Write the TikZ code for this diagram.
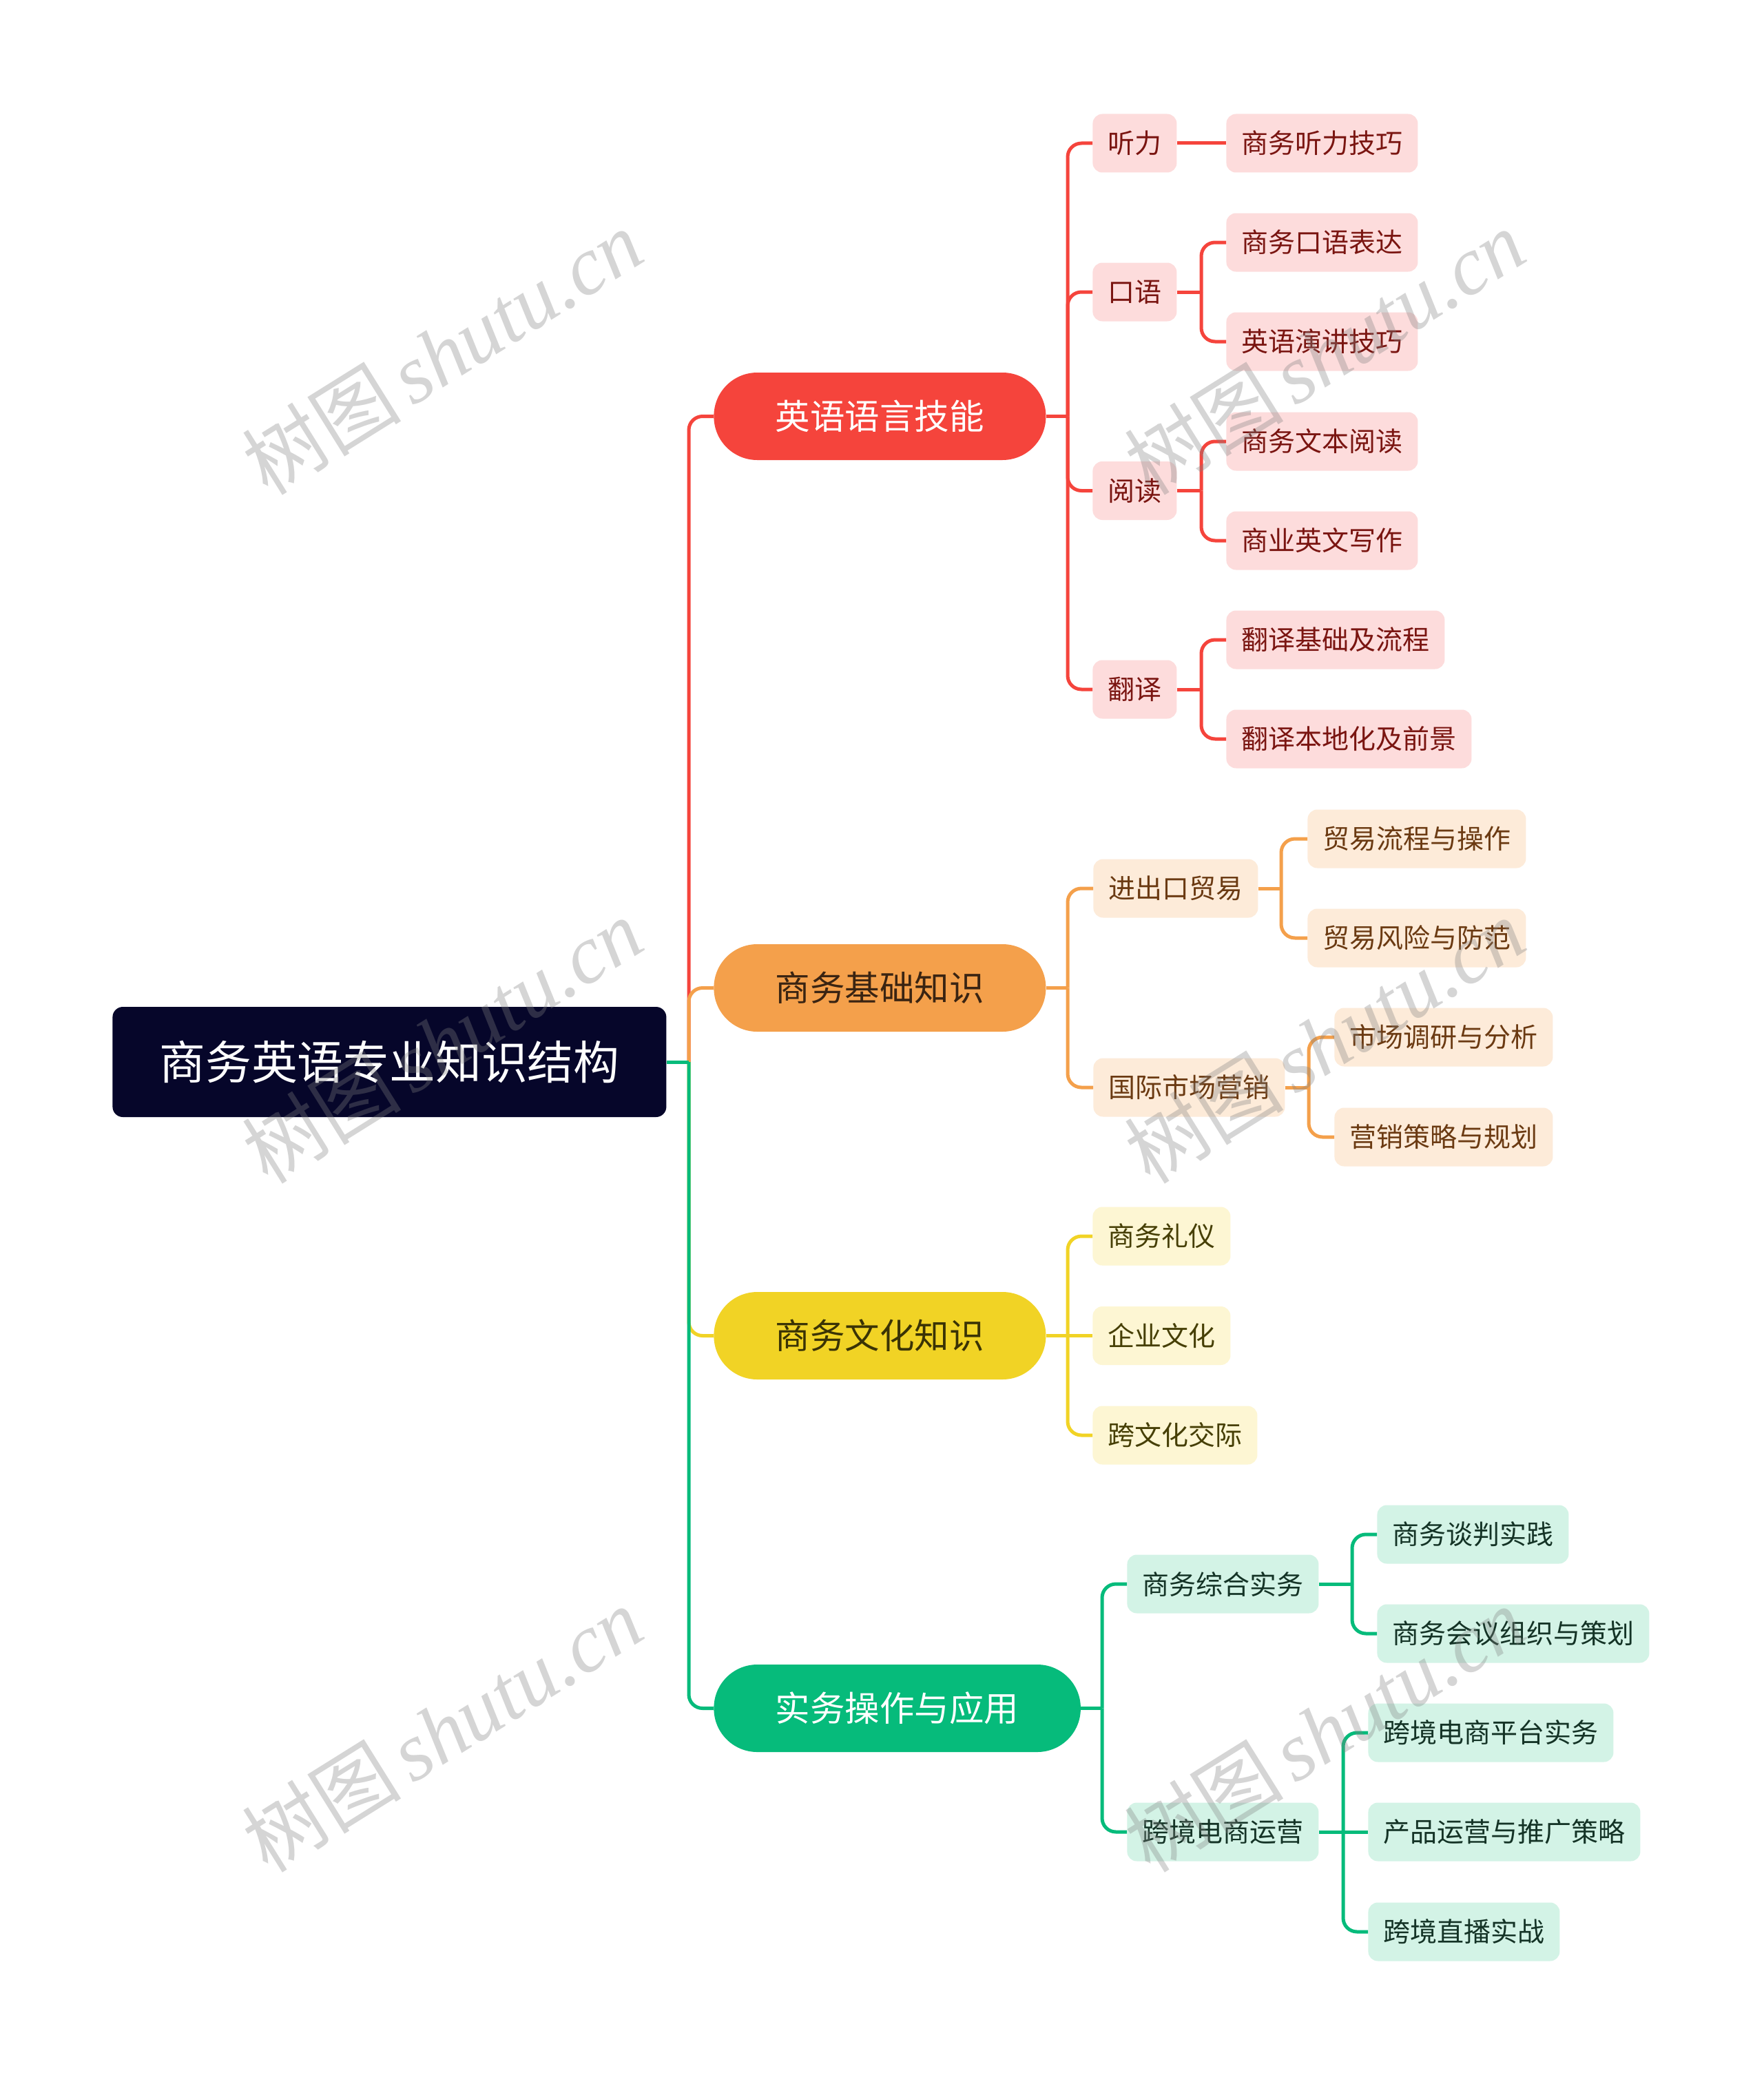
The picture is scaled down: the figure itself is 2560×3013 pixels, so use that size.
\documentclass[tikz,border=0pt]{standalone}
\usepackage{fontspec}
\newfontfamily\cjk{Noto Sans CJK SC}
\newfontfamily\wmlat{Liberation Serif}
\definecolor{cRoot}{HTML}{06062A}
\definecolor{cRed}{HTML}{F5443C}
\definecolor{cRedL}{HTML}{FDDCDC}
\definecolor{cRedT}{HTML}{7A1511}
\definecolor{cOrg}{HTML}{F4A04B}
\definecolor{cOrgL}{HTML}{FDEBD9}
\definecolor{cOrgT}{HTML}{6B3A12}
\definecolor{cOrgTT}{HTML}{3A2412}
\definecolor{cYel}{HTML}{F1D325}
\definecolor{cYelL}{HTML}{FDF6D3}
\definecolor{cYelT}{HTML}{463F05}
\definecolor{cYelTT}{HTML}{3A3305}
\definecolor{cGrn}{HTML}{06BB7B}
\definecolor{cGrnL}{HTML}{D3F3E6}
\definecolor{cGrnT}{HTML}{143326}
\tikzset{
  rootbox/.style={anchor=west, fill=cRoot, text=white, rounded corners=7.5pt,
    minimum height=80pt, inner xsep=34pt, inner ysep=0pt,
    font=\cjk\fontsize{33.4}{40}\selectfont},
  lone/.style={anchor=west, rounded corners=31.5pt, minimum height=63.5pt,
    inner xsep=44.75pt, inner ysep=0pt, font=\cjk\fontsize{25.25}{30}\selectfont},
  ltwo/.style={anchor=west, rounded corners=7pt, minimum height=42.5pt,
    inner xsep=11pt, inner ysep=0pt, font=\cjk\fontsize{19.5}{23}\selectfont},
  rtwo/.style={ltwo, fill=cRedL, text=cRedT},
  otwo/.style={ltwo, fill=cOrgL, text=cOrgT},
  ytwo/.style={ltwo, fill=cYelL, text=cYelT},
  gtwo/.style={ltwo, fill=cGrnL, text=cGrnT},
  conn/.style={line width=2.5pt, rounded corners=10pt},
  wm/.style={text=black!50, opacity=0.33, rotate=32, inner sep=0pt}
}
\begin{document}
\begin{tikzpicture}[x=0.5pt,y=-0.5pt]
\useasboundingbox (0,0) rectangle (2560,3013);
\fill[white] (0,0) rectangle (2560,3013);

% root
\node[rootbox] (root) at (163,1542) {商务英语专业知识结构};

% level 1
\node[lone, fill=cRed, text=white] (a) at (1036,604.5) {英语语言技能};
\node[lone, fill=cOrg, text=cOrgTT] (b) at (1036,1434.5) {商务基础知识};
\node[lone, fill=cYel, text=cYelTT] (c) at (1036,1939.5) {商务文化知识};
\node[lone, fill=cGrn, text=white] (d) at (1036,2480.5) {实务操作与应用};

% red
\node[rtwo] (a1) at (1586,208) {听力};
\node[rtwo] (a2) at (1586,424) {口语};
\node[rtwo] (a3) at (1586,712.5) {阅读};
\node[rtwo] (a4) at (1586,1001) {翻译};
\node[rtwo] (a11) at (1780,208) {商务听力技巧};
\node[rtwo] (a21) at (1780,352) {商务口语表达};
\node[rtwo] (a22) at (1780,496) {英语演讲技巧};
\node[rtwo] (a31) at (1780,641) {商务文本阅读};
\node[rtwo] (a32) at (1780,785) {商业英文写作};
\node[rtwo] (a41) at (1780,929) {翻译基础及流程};
\node[rtwo] (a42) at (1780,1073) {翻译本地化及前景};

% orange
\node[otwo] (b1) at (1587,1290) {进出口贸易};
\node[otwo] (b2) at (1587,1579) {国际市场营销};
\node[otwo] (b11) at (1898,1218) {贸易流程与操作};
\node[otwo] (b12) at (1898,1362) {贸易风险与防范};
\node[otwo] (b21) at (1937,1506) {市场调研与分析};
\node[otwo] (b22) at (1937,1651) {营销策略与规划};

% yellow
\node[ytwo] (c1) at (1586,1795) {商务礼仪};
\node[ytwo] (c2) at (1586,1939.5) {企业文化};
\node[ytwo] (c3) at (1586,2084) {跨文化交际};

% green
\node[gtwo] (d1) at (1636,2300) {商务综合实务\hspace{6.5pt}};
\node[gtwo] (d2) at (1636,2660) {跨境电商运营};
\node[gtwo] (d11) at (1999,2228) {商务谈判实践};
\node[gtwo] (d12) at (1999,2372) {商务会议组织与策划};
\node[gtwo] (d21) at (1986,2516) {跨境电商平台实务};
\node[gtwo] (d22) at (1986,2660) {产品运营与推广策略};
\node[gtwo] (d23) at (1986,2805) {跨境直播实战};

% junctions
\coordinate (j0) at (1000,1542);
\coordinate (ja) at (1550,604.5);
\coordinate (ja2) at (1744,424);
\coordinate (ja3) at (1744,712.5);
\coordinate (ja4) at (1744,1001);
\coordinate (jb) at (1550,1434.5);
\coordinate (jb1) at (1860,1290);
\coordinate (jb2) at (1900,1579);
\coordinate (jc) at (1550,1939.5);
\coordinate (jd) at (1600,2480.5);
\coordinate (jd1) at (1963,2300);
\coordinate (jd2) at (1950,2660);

% red connectors
\begin{scope}[conn, draw=cRed]
\draw (j0) |- (a.west);
\draw (a.east) -- (ja);
\draw (ja) |- (a1.west);
\draw (ja) |- (a2.west);
\draw (ja) |- (a3.west);
\draw (ja) |- (a4.west);
\draw (a1.east) -- (a11.west);
\draw (a2.east) -- (ja2);
\draw (ja2) |- (a21.west);
\draw (ja2) |- (a22.west);
\draw (a3.east) -- (ja3);
\draw (ja3) |- (a31.west);
\draw (ja3) |- (a32.west);
\draw (a4.east) -- (ja4);
\draw (ja4) |- (a41.west);
\draw (ja4) |- (a42.west);
\end{scope}

% orange connectors
\begin{scope}[conn, draw=cOrg]
\draw (j0) |- (b.west);
\draw (b.east) -- (jb);
\draw (jb) |- (b1.west);
\draw (jb) |- (b2.west);
\draw (b1.east) -- (jb1);
\draw (jb1) |- (b11.west);
\draw (jb1) |- (b12.west);
\draw (b2.east) -- (jb2);
\draw (jb2) |- (b21.west);
\draw (jb2) |- (b22.west);
\end{scope}

% yellow connectors
\begin{scope}[conn, draw=cYel]
\draw (j0) |- (c.west);
\draw (c.east) -- (jc);
\draw (jc) |- (c1.west);
\draw (jc) -- (c2.west);
\draw (jc) |- (c3.west);
\end{scope}

% green connectors
\begin{scope}[conn, draw=cGrn]
\draw (j0) |- (d.west);
\draw (d.east) -- (jd);
\draw (jd) |- (d1.west);
\draw (jd) |- (d2.west);
\draw (d1.east) -- (jd1);
\draw (jd1) |- (d11.west);
\draw (jd1) |- (d12.west);
\draw (d2.east) -- (jd2);
\draw (jd2) |- (d21.west);
\draw (jd2) -- (d22.west);
\draw (jd2) |- (d23.west);
\draw (root.east) -- (j0);
\end{scope}

% watermarks
\foreach \wx/\wy [count=\i] in {642/512, 1923/512, 642/1512, 1923/1512, 642/2512, 1923/2512}{
  \node[wm] (wm\i) at (\wx,\wy) {{\cjk\fontsize{58}{62}\selectfont 树图}\hspace{8pt}{\wmlat\itshape\fontsize{60}{64}\selectfont shutu.cn}};
}
\end{tikzpicture}
\end{document}
